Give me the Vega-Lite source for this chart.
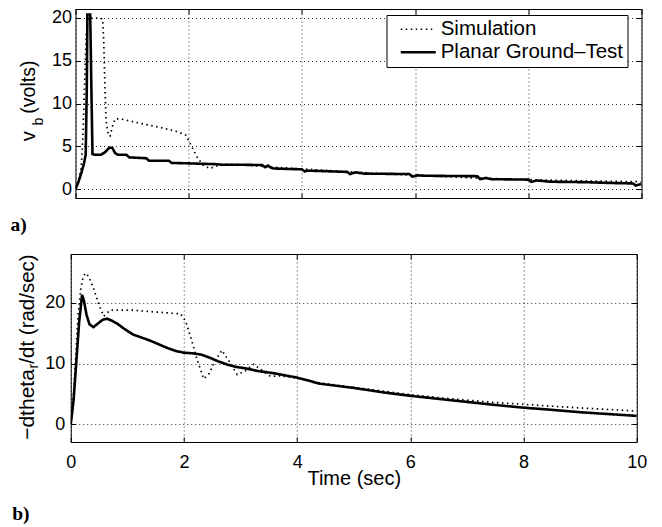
{
  "$schema": "https://vega.github.io/schema/vega-lite/v6.json",
  "background": "white",
  "padding": {"left": 9.5, "top": 8, "right": 5, "bottom": 5},
  "config": {
    "font": "Liberation Sans",
    "view": {"stroke": "black", "strokeWidth": 1},
    "axis": {
      "domain": false, "tickColor": "black", "tickSize": -5,
      "labelColor": "black", "titleColor": "black",
      "labelFont": "Liberation Sans", "titleFont": "Liberation Sans",
      "labelFontSize": 18, "titleFontSize": 20, "titleFontWeight": "normal",
      "gridColor": "black", "gridDash": [1, 3], "gridOpacity": 0.85,
      "labelFlush": false, "labelOverlap": false
    }
  },
  "datasets": {
    "vb": [
      {"series": "Simulation", "t": 0, "v": 0},
      {"series": "Simulation", "t": 0.05, "v": 0.8},
      {"series": "Simulation", "t": 0.1, "v": 2.5},
      {"series": "Simulation", "t": 0.13, "v": 6},
      {"series": "Simulation", "t": 0.16, "v": 12},
      {"series": "Simulation", "t": 0.19, "v": 18},
      {"series": "Simulation", "t": 0.22, "v": 20},
      {"series": "Simulation", "t": 0.3, "v": 20},
      {"series": "Simulation", "t": 0.4, "v": 20},
      {"series": "Simulation", "t": 0.48, "v": 19.9},
      {"series": "Simulation", "t": 0.5, "v": 17},
      {"series": "Simulation", "t": 0.52, "v": 12},
      {"series": "Simulation", "t": 0.54, "v": 8},
      {"series": "Simulation", "t": 0.58, "v": 6.3},
      {"series": "Simulation", "t": 0.61, "v": 6.2},
      {"series": "Simulation", "t": 0.66, "v": 7.5},
      {"series": "Simulation", "t": 0.7, "v": 8.2},
      {"series": "Simulation", "t": 0.8, "v": 8.2},
      {"series": "Simulation", "t": 1.0, "v": 7.9},
      {"series": "Simulation", "t": 1.2, "v": 7.6},
      {"series": "Simulation", "t": 1.5, "v": 7.2},
      {"series": "Simulation", "t": 1.8, "v": 6.7},
      {"series": "Simulation", "t": 1.95, "v": 6.3},
      {"series": "Simulation", "t": 2.05, "v": 5.0},
      {"series": "Simulation", "t": 2.15, "v": 3.7},
      {"series": "Simulation", "t": 2.25, "v": 2.8},
      {"series": "Simulation", "t": 2.37, "v": 2.4},
      {"series": "Simulation", "t": 2.5, "v": 2.7},
      {"series": "Simulation", "t": 2.7, "v": 2.9},
      {"series": "Simulation", "t": 3.0, "v": 2.8},
      {"series": "Simulation", "t": 3.5, "v": 2.55},
      {"series": "Simulation", "t": 4.0, "v": 2.35},
      {"series": "Simulation", "t": 5.0, "v": 1.95},
      {"series": "Simulation", "t": 6.0, "v": 1.6},
      {"series": "Simulation", "t": 7.0, "v": 1.3},
      {"series": "Simulation", "t": 8.0, "v": 1.1},
      {"series": "Simulation", "t": 9.0, "v": 0.95},
      {"series": "Simulation", "t": 10.0, "v": 0.85},
      {"series": "Planar Ground–Test", "t": 0, "v": 0},
      {"series": "Planar Ground–Test", "t": 0.05, "v": 0.8},
      {"series": "Planar Ground–Test", "t": 0.1, "v": 1.8},
      {"series": "Planar Ground–Test", "t": 0.15, "v": 3.0},
      {"series": "Planar Ground–Test", "t": 0.18, "v": 4.0},
      {"series": "Planar Ground–Test", "t": 0.2, "v": 12},
      {"series": "Planar Ground–Test", "t": 0.21, "v": 20.4},
      {"series": "Planar Ground–Test", "t": 0.26, "v": 20.4},
      {"series": "Planar Ground–Test", "t": 0.28, "v": 12},
      {"series": "Planar Ground–Test", "t": 0.3, "v": 4.1},
      {"series": "Planar Ground–Test", "t": 0.35, "v": 4.0},
      {"series": "Planar Ground–Test", "t": 0.45, "v": 4.0},
      {"series": "Planar Ground–Test", "t": 0.52, "v": 4.3},
      {"series": "Planar Ground–Test", "t": 0.6, "v": 4.85},
      {"series": "Planar Ground–Test", "t": 0.65, "v": 4.8},
      {"series": "Planar Ground–Test", "t": 0.7, "v": 4.2},
      {"series": "Planar Ground–Test", "t": 0.75, "v": 4.0},
      {"series": "Planar Ground–Test", "t": 0.9, "v": 4.0},
      {"series": "Planar Ground–Test", "t": 0.95, "v": 3.7},
      {"series": "Planar Ground–Test", "t": 1.25, "v": 3.6},
      {"series": "Planar Ground–Test", "t": 1.3, "v": 3.3},
      {"series": "Planar Ground–Test", "t": 1.65, "v": 3.3},
      {"series": "Planar Ground–Test", "t": 1.7, "v": 3.05},
      {"series": "Planar Ground–Test", "t": 2.0, "v": 3.0},
      {"series": "Planar Ground–Test", "t": 2.5, "v": 2.9},
      {"series": "Planar Ground–Test", "t": 2.6, "v": 2.83},
      {"series": "Planar Ground–Test", "t": 3.0, "v": 2.83},
      {"series": "Planar Ground–Test", "t": 3.3, "v": 2.8},
      {"series": "Planar Ground–Test", "t": 3.35, "v": 2.55},
      {"series": "Planar Ground–Test", "t": 3.4, "v": 2.75},
      {"series": "Planar Ground–Test", "t": 3.45, "v": 2.5},
      {"series": "Planar Ground–Test", "t": 3.5, "v": 2.4},
      {"series": "Planar Ground–Test", "t": 4.0, "v": 2.3},
      {"series": "Planar Ground–Test", "t": 4.05, "v": 2.05},
      {"series": "Planar Ground–Test", "t": 4.1, "v": 2.15},
      {"series": "Planar Ground–Test", "t": 4.8, "v": 2.0},
      {"series": "Planar Ground–Test", "t": 4.85, "v": 1.75},
      {"series": "Planar Ground–Test", "t": 4.95, "v": 1.95},
      {"series": "Planar Ground–Test", "t": 5.1, "v": 1.8},
      {"series": "Planar Ground–Test", "t": 5.9, "v": 1.75},
      {"series": "Planar Ground–Test", "t": 5.95, "v": 1.45},
      {"series": "Planar Ground–Test", "t": 6.05, "v": 1.6},
      {"series": "Planar Ground–Test", "t": 6.2, "v": 1.55},
      {"series": "Planar Ground–Test", "t": 7.1, "v": 1.5},
      {"series": "Planar Ground–Test", "t": 7.15, "v": 1.15},
      {"series": "Planar Ground–Test", "t": 7.25, "v": 1.3},
      {"series": "Planar Ground–Test", "t": 7.35, "v": 1.15},
      {"series": "Planar Ground–Test", "t": 8.0, "v": 1.1},
      {"series": "Planar Ground–Test", "t": 8.05, "v": 0.85},
      {"series": "Planar Ground–Test", "t": 8.15, "v": 1.0},
      {"series": "Planar Ground–Test", "t": 8.4, "v": 0.85},
      {"series": "Planar Ground–Test", "t": 9.0, "v": 0.8},
      {"series": "Planar Ground–Test", "t": 9.5, "v": 0.7},
      {"series": "Planar Ground–Test", "t": 9.85, "v": 0.65},
      {"series": "Planar Ground–Test", "t": 9.9, "v": 0.4},
      {"series": "Planar Ground–Test", "t": 10.0, "v": 0.6}
    ],
    "dth": [
      {"series": "Simulation", "t": 0, "v": 0},
      {"series": "Simulation", "t": 0.03, "v": 2},
      {"series": "Simulation", "t": 0.08, "v": 10},
      {"series": "Simulation", "t": 0.13, "v": 18},
      {"series": "Simulation", "t": 0.18, "v": 22.5},
      {"series": "Simulation", "t": 0.22, "v": 24.3},
      {"series": "Simulation", "t": 0.26, "v": 24.9},
      {"series": "Simulation", "t": 0.32, "v": 24.3},
      {"series": "Simulation", "t": 0.41, "v": 22.2},
      {"series": "Simulation", "t": 0.48, "v": 20.2},
      {"series": "Simulation", "t": 0.53, "v": 19.0},
      {"series": "Simulation", "t": 0.58, "v": 17.8},
      {"series": "Simulation", "t": 0.64, "v": 18.3},
      {"series": "Simulation", "t": 0.7, "v": 18.8},
      {"series": "Simulation", "t": 1.1, "v": 18.8},
      {"series": "Simulation", "t": 1.5, "v": 18.5},
      {"series": "Simulation", "t": 1.94, "v": 18.2},
      {"series": "Simulation", "t": 2.03, "v": 17.0},
      {"series": "Simulation", "t": 2.14, "v": 13.7},
      {"series": "Simulation", "t": 2.23, "v": 10.7},
      {"series": "Simulation", "t": 2.35, "v": 7.5},
      {"series": "Simulation", "t": 2.45, "v": 8.4},
      {"series": "Simulation", "t": 2.53, "v": 10.1},
      {"series": "Simulation", "t": 2.67, "v": 12.2},
      {"series": "Simulation", "t": 2.82, "v": 10.1},
      {"series": "Simulation", "t": 2.94, "v": 8.2},
      {"series": "Simulation", "t": 3.08, "v": 8.8},
      {"series": "Simulation", "t": 3.23, "v": 9.9},
      {"series": "Simulation", "t": 3.38, "v": 8.9},
      {"series": "Simulation", "t": 3.53, "v": 7.9},
      {"series": "Simulation", "t": 3.7, "v": 8.0},
      {"series": "Simulation", "t": 4.0, "v": 7.6},
      {"series": "Simulation", "t": 4.41, "v": 6.8},
      {"series": "Simulation", "t": 5.0, "v": 6.1},
      {"series": "Simulation", "t": 5.5, "v": 5.5},
      {"series": "Simulation", "t": 6.0, "v": 4.9},
      {"series": "Simulation", "t": 6.5, "v": 4.4},
      {"series": "Simulation", "t": 7.0, "v": 4.0},
      {"series": "Simulation", "t": 7.5, "v": 3.6},
      {"series": "Simulation", "t": 8.0, "v": 3.3},
      {"series": "Simulation", "t": 8.5, "v": 3.0},
      {"series": "Simulation", "t": 9.0, "v": 2.7},
      {"series": "Simulation", "t": 9.5, "v": 2.45},
      {"series": "Simulation", "t": 10.0, "v": 2.2},
      {"series": "Planar Ground–Test", "t": 0, "v": 0},
      {"series": "Planar Ground–Test", "t": 0.05, "v": 4},
      {"series": "Planar Ground–Test", "t": 0.1, "v": 10.5},
      {"series": "Planar Ground–Test", "t": 0.15, "v": 17},
      {"series": "Planar Ground–Test", "t": 0.2, "v": 21.3},
      {"series": "Planar Ground–Test", "t": 0.23, "v": 20.5},
      {"series": "Planar Ground–Test", "t": 0.28, "v": 18},
      {"series": "Planar Ground–Test", "t": 0.33, "v": 16.5},
      {"series": "Planar Ground–Test", "t": 0.4, "v": 16.0},
      {"series": "Planar Ground–Test", "t": 0.48, "v": 16.6},
      {"series": "Planar Ground–Test", "t": 0.56, "v": 17.2},
      {"series": "Planar Ground–Test", "t": 0.64, "v": 17.4},
      {"series": "Planar Ground–Test", "t": 0.72, "v": 17.1},
      {"series": "Planar Ground–Test", "t": 0.82, "v": 16.6},
      {"series": "Planar Ground–Test", "t": 0.95, "v": 15.7},
      {"series": "Planar Ground–Test", "t": 1.1, "v": 14.8},
      {"series": "Planar Ground–Test", "t": 1.25, "v": 14.3},
      {"series": "Planar Ground–Test", "t": 1.4, "v": 13.8},
      {"series": "Planar Ground–Test", "t": 1.55, "v": 13.2},
      {"series": "Planar Ground–Test", "t": 1.7, "v": 12.6},
      {"series": "Planar Ground–Test", "t": 1.85, "v": 12.1},
      {"series": "Planar Ground–Test", "t": 2.0, "v": 11.8},
      {"series": "Planar Ground–Test", "t": 2.15, "v": 11.7},
      {"series": "Planar Ground–Test", "t": 2.3, "v": 11.5},
      {"series": "Planar Ground–Test", "t": 2.45, "v": 11.0},
      {"series": "Planar Ground–Test", "t": 2.6, "v": 10.4},
      {"series": "Planar Ground–Test", "t": 2.75, "v": 9.9},
      {"series": "Planar Ground–Test", "t": 2.9, "v": 9.5},
      {"series": "Planar Ground–Test", "t": 3.1, "v": 9.2},
      {"series": "Planar Ground–Test", "t": 3.3, "v": 8.8},
      {"series": "Planar Ground–Test", "t": 3.6, "v": 8.4},
      {"series": "Planar Ground–Test", "t": 4.0, "v": 7.7},
      {"series": "Planar Ground–Test", "t": 4.4, "v": 6.7},
      {"series": "Planar Ground–Test", "t": 5.0, "v": 6.0},
      {"series": "Planar Ground–Test", "t": 5.5, "v": 5.3},
      {"series": "Planar Ground–Test", "t": 6.0, "v": 4.7},
      {"series": "Planar Ground–Test", "t": 6.5, "v": 4.2},
      {"series": "Planar Ground–Test", "t": 7.0, "v": 3.7},
      {"series": "Planar Ground–Test", "t": 7.5, "v": 3.2},
      {"series": "Planar Ground–Test", "t": 8.0, "v": 2.75},
      {"series": "Planar Ground–Test", "t": 8.5, "v": 2.4},
      {"series": "Planar Ground–Test", "t": 9.0, "v": 2.0},
      {"series": "Planar Ground–Test", "t": 9.5, "v": 1.7},
      {"series": "Planar Ground–Test", "t": 10.0, "v": 1.4}
    ]
  },
  "center": true,
  "spacing": 18,
  "resolve": {"scale": {"strokeDash": "independent", "strokeWidth": "independent"}},
  "vconcat": [
    {
      "width": 566, "height": 189,
      "data": {"name": "vb"},
      "title": {"text": "a)", "orient": "bottom", "anchor": "start", "frame": "group", "dx": -65, "offset": 32, "baseline": "alphabetic", "font": "Liberation Serif", "fontWeight": "bold", "fontSize": 19.5, "color": "black"},
      "layer": [
        {
          "mark": {"type": "line", "color": "black", "clip": true},
          "encoding": {
            "x": {"field": "t", "type": "quantitative", "scale": {"domain": [0, 10], "nice": false}, "axis": {"orient": "bottom", "values": [0, 2, 4, 6, 8, 10], "labels": false, "title": null, "grid": true}},
            "y": {"field": "v", "type": "quantitative", "scale": {"domain": [-1.05, 21.05], "nice": false, "zero": false}, "axis": {"orient": "left", "values": [0, 5, 10, 15, 20], "title": "(volts)", "titleFontSize": 19.5, "titleX": -41, "titleY": 77.6, "titleBaseline": "alphabetic", "titleAngle": 270, "titleAlign": "center", "labelPadding": 9, "grid": true}},
            "strokeDash": {"field": "series", "type": "nominal", "scale": {"domain": ["Simulation", "Planar Ground–Test"], "range": [[1.5, 3.5], [1, 0]]}, "legend": {"orient": "none", "legendX": 311, "legendY": 6, "title": null, "symbolType": "M0,0H7", "symbolSize": 100, "symbolStrokeColor": "black", "symbolFillColor": "transparent", "strokeColor": "black", "fillColor": "white", "padding": 4, "labelFont": "Liberation Sans", "labelFontSize": 20.5, "labelColor": "black", "labelOffset": 29.7, "labelLimit": 400, "rowPadding": 2, "cornerRadius": 0}},
            "strokeWidth": {"field": "series", "type": "nominal", "scale": {"domain": ["Simulation", "Planar Ground–Test"], "range": [1.7, 2.6]}, "legend": {"orient": "none", "legendX": 311, "legendY": 6, "title": null, "symbolType": "M0,0H7", "symbolSize": 100, "symbolStrokeColor": "black", "symbolFillColor": "transparent", "strokeColor": "black", "fillColor": "white", "padding": 4, "labelFont": "Liberation Sans", "labelFontSize": 20.5, "labelColor": "black", "labelOffset": 29.7, "labelLimit": 400, "rowPadding": 2, "cornerRadius": 0}}
          }
        },
        {
          "mark": {"type": "line", "opacity": 0},
          "encoding": {
            "x": {"field": "t", "type": "quantitative", "axis": {"orient": "top", "values": [0, 2, 4, 6, 8, 10], "labels": false, "title": null, "grid": false}},
            "y": {"field": "v", "type": "quantitative", "axis": {"orient": "right", "values": [0, 5, 10, 15, 20], "labels": false, "title": null, "grid": false}},
            "detail": {"field": "series"}
          }
        },
        {
          "mark": {"type": "line", "opacity": 0},
          "encoding": {
            "x": {"field": "t", "type": "quantitative", "axis": null},
            "y": {"field": "v", "type": "quantitative", "axis": {"orient": "left", "title": "b", "labels": false, "ticks": false, "grid": false, "titleX": -32.7, "titleY": 112.2, "titleFontSize": 14, "titleBaseline": "alphabetic", "titleAngle": 270, "titleAlign": "center"}},
            "detail": {"field": "series"}
          }
        },
        {
          "mark": {"type": "line", "opacity": 0},
          "encoding": {
            "x": {"field": "t", "type": "quantitative", "axis": null},
            "y": {"field": "v", "type": "quantitative", "axis": {"orient": "left", "title": "v", "labels": false, "ticks": false, "grid": false, "titleX": -41, "titleY": 126.7, "titleFontSize": 20, "titleBaseline": "alphabetic", "titleAngle": 270, "titleAlign": "center"}},
            "detail": {"field": "series"}
          }
        }
      ],
      "resolve": {"axis": {"x": "independent", "y": "independent"}}
    },
    {
      "width": 566, "height": 188,
      "data": {"name": "dth"},
      "title": {"text": "b)", "orient": "bottom", "anchor": "start", "frame": "group", "dx": -58.6, "offset": 32, "baseline": "alphabetic", "font": "Liberation Serif", "fontWeight": "bold", "fontSize": 19.5, "color": "black"},
      "layer": [
        {
          "mark": {"type": "line", "color": "black", "clip": true},
          "encoding": {
            "x": {"field": "t", "type": "quantitative", "scale": {"domain": [0, 10], "nice": false}, "axis": {"orient": "bottom", "values": [0, 2, 4, 6, 8, 10], "title": "Time (sec)", "titleY": 42, "titleBaseline": "alphabetic", "labelPadding": 16, "grid": true}},
            "y": {"field": "v", "type": "quantitative", "scale": {"domain": [-2.9, 28.05], "nice": false, "zero": false}, "axis": {"orient": "left", "values": [0, 10, 20], "title": "/dt (rad/sec)", "titleFontSize": 20.5, "titleX": -37, "titleY": 54.5, "titleBaseline": "alphabetic", "titleAngle": 270, "titleAlign": "center", "labelPadding": 11, "grid": true}},
            "strokeDash": {"field": "series", "type": "nominal", "scale": {"domain": ["Simulation", "Planar Ground–Test"], "range": [[1.5, 3.5], [1, 0]]}, "legend": null},
            "strokeWidth": {"field": "series", "type": "nominal", "scale": {"domain": ["Simulation", "Planar Ground–Test"], "range": [1.7, 2.6]}, "legend": null}
          }
        },
        {
          "mark": {"type": "line", "opacity": 0},
          "encoding": {
            "x": {"field": "t", "type": "quantitative", "axis": {"orient": "top", "values": [0, 2, 4, 6, 8, 10], "labels": false, "title": null, "grid": false}},
            "y": {"field": "v", "type": "quantitative", "axis": {"orient": "right", "values": [0, 10, 20], "labels": false, "title": null, "grid": false}},
            "detail": {"field": "series"}
          }
        },
        {
          "mark": {"type": "line", "opacity": 0},
          "encoding": {
            "x": {"field": "t", "type": "quantitative", "axis": null},
            "y": {"field": "v", "type": "quantitative", "axis": {"orient": "left", "title": "r", "labels": false, "ticks": false, "grid": false, "titleX": -33.7, "titleY": 111.7, "titleFontSize": 14, "titleBaseline": "alphabetic", "titleAngle": 270, "titleAlign": "center"}},
            "detail": {"field": "series"}
          }
        },
        {
          "mark": {"type": "line", "opacity": 0},
          "encoding": {
            "x": {"field": "t", "type": "quantitative", "axis": null},
            "y": {"field": "v", "type": "quantitative", "axis": {"orient": "left", "title": "−dtheta", "labels": false, "ticks": false, "grid": false, "titleX": -37, "titleY": 150, "titleFontSize": 21, "titleBaseline": "alphabetic", "titleAngle": 270, "titleAlign": "center"}},
            "detail": {"field": "series"}
          }
        }
      ],
      "resolve": {"axis": {"x": "independent", "y": "independent"}}
    }
  ]
}
